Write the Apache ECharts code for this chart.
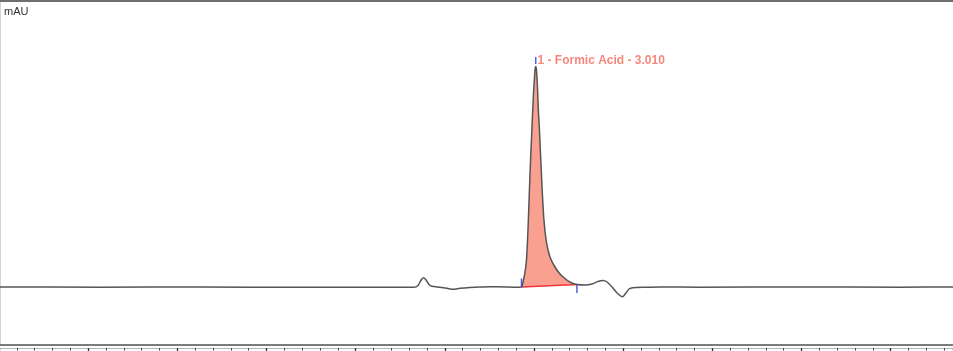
<!DOCTYPE html>
<html>
<head>
<meta charset="utf-8">
<script src="https://cdn.jsdelivr.net/npm/echarts@6/dist/echarts.min.js"></script>
<style>
html,body{margin:0;padding:0;background:#fff;}
#c{width:953px;height:351px;}
</style>
</head>
<body>
<div id="c"></div>
<script>
// Retention time (min) and absorbance (mAU)
var timeMin = [0, 0.566, 1.127, 1.688, 2.249, 2.327, 2.350, 2.367, 2.381, 2.395, 2.411, 2.428, 2.473, 2.518, 2.546, 2.585, 2.641, 2.697, 2.753, 2.838, 2.894,
  2.930, 2.933, 2.944, 2.953, 2.959, 2.967, 2.974, 2.981, 2.989, 2.997, 3.003, 3.006, 3.010, 3.014, 3.020, 3.024, 3.030, 3.037, 3.047, 3.056, 3.071, 3.090, 3.118, 3.146, 3.184, 3.213, 3.241,
  3.286, 3.326, 3.359, 3.387, 3.410, 3.438, 3.466, 3.497, 3.516, 3.533, 3.555, 3.623, 3.707, 3.931, 4.492, 5.053, 5.35];
var signalMAU = [0, -0.04, 0, -0.06, -0.06, -0.06, 0.3, 1.4, 1.86, 1.4, 0.5, 0.14, -0.04, -0.3, -0.44, -0.26, -0.1, 0, 0.06, 0.02, -0.04,
  0, 0.2, 1.8, 3.8, 5.8, 11.8, 18.8, 25.4, 32, 38.4, 41.8, 43.4, 44.1, 43.4, 39.8, 35.8, 32, 26.4, 18.8, 13.4, 8.8, 6, 4, 2.6, 1.4, 0.8, 0.5,
  0.4, 0.6, 1.1, 1.3, 1.0, 0, -1.2, -1.94, -1.2, -0.4, -0.14, -0.06, 0, -0.04, 0, -0.04, 0];

// Integrated peak
var peakName = '1 - Formic Acid - 3.010';
var peakStartTime = 2.930;
var peakApexTime = 3.010;
var peakEndTime = 3.241;

// Axis ticks (min)
var tickMajor = 0.5;
var tickMinorSplit = 5;
var timeMax = 5.35;
var yMin = -11.6, yMax = 57.2;

var trace = timeMin.map(function (t, i) { return [t, signalMAU[i]]; });
function pointAt(t) {
  for (var i = 0; i < trace.length; i++) if (trace[i][0] === t) return trace[i];
  return null;
}
var peakSegment = trace.filter(function (p) { return p[0] >= peakStartTime && p[0] <= peakEndTime; });
var startPt = pointAt(peakStartTime), apexPt = pointAt(peakApexTime), endPt = pointAt(peakEndTime);

var chart = echarts.init(document.getElementById('c'), null, { renderer: 'canvas' });
var baseAxis = { type: 'value', min: 0, max: timeMax, interval: tickMajor, splitLine: { show: false }, axisLabel: { show: false } };
chart.setOption({
  animation: false,
  backgroundColor: '#ffffff',
  title: { text: 'mAU', left: 4, top: 6, padding: 0, textStyle: { fontSize: 11, fontWeight: 'normal', color: '#333', fontFamily: 'Liberation Sans' } },
  grid: { left: -1, right: 0, top: 1, bottom: 6, containLabel: false, outerBoundsMode: 'none' },
  xAxis: [
    Object.assign({}, baseAxis, { position: 'bottom', axisLine: { show: true, onZero: false, lineStyle: { color: '#7c7c7c', width: 2 } }, axisTick: { show: false }, minorTick: { show: false } }),
    Object.assign({}, baseAxis, { position: 'bottom', offset: 3, axisLine: { show: true, onZero: false, lineStyle: { color: '#b4b4b4', width: 1 } },
      axisTick: { show: true, inside: false, length: 3, lineStyle: { color: '#333', width: 1.3 } },
      minorTick: { show: true, splitNumber: tickMinorSplit, length: 2.5, lineStyle: { color: '#444', width: 1 } } }),
    Object.assign({}, baseAxis, { position: 'top', axisLine: { show: true, onZero: false, lineStyle: { color: '#6e6e6e', width: 2 } }, axisTick: { show: false } })
  ],
  yAxis: { type: 'value', min: yMin, max: yMax, offset: -1, axisLine: { show: true, lineStyle: { color: '#d4d4d4', width: 1 } }, axisTick: { show: false }, axisLabel: { show: false }, splitLine: { show: false } },
  series: [
    {
      type: 'custom', xAxisIndex: 0, silent: true, z: 1,
      data: [[peakStartTime, 0]],
      renderItem: function (params, api) {
        var pts = peakSegment.map(function (p) { return api.coord(p); });
        return { type: 'polygon', shape: { points: pts }, style: { fill: '#f9a091', stroke: null } };
      }
    },
    {
      type: 'line', xAxisIndex: 0, z: 2, symbol: 'none', silent: true,
      data: [startPt, endPt], lineStyle: { color: '#f2333a', width: 1.5 }
    },
    {
      type: 'line', xAxisIndex: 0, z: 3, symbol: 'none', smooth: 0.2, silent: true,
      data: trace, lineStyle: { color: '#555555', width: 1.5 }
    },
    {
      type: 'scatter', xAxisIndex: 0, z: 4, silent: true, symbol: 'rect', symbolSize: [1.5, 7], symbolOffset: [0, -6],
      itemStyle: { color: '#2b3bdc' },
      data: [apexPt],
      label: { show: true, position: 'right', distance: 1, offset: [0, 0.5], formatter: peakName, color: '#f2695a', fontSize: 12, fontWeight: 'bold', fontFamily: 'Liberation Sans' }
    },
    {
      type: 'scatter', xAxisIndex: 0, z: 4, silent: true, symbol: 'rect', symbolSize: [1.5, 8.5], symbolOffset: [0, -4.3],
      itemStyle: { color: '#2b3bdc' }, data: [startPt]
    },
    {
      type: 'scatter', xAxisIndex: 0, z: 4, silent: true, symbol: 'rect', symbolSize: [1.5, 8.5], symbolOffset: [0, 4.2],
      itemStyle: { color: '#2b3bdc' }, data: [endPt]
    }
  ]
});
</script>
</body>
</html>
